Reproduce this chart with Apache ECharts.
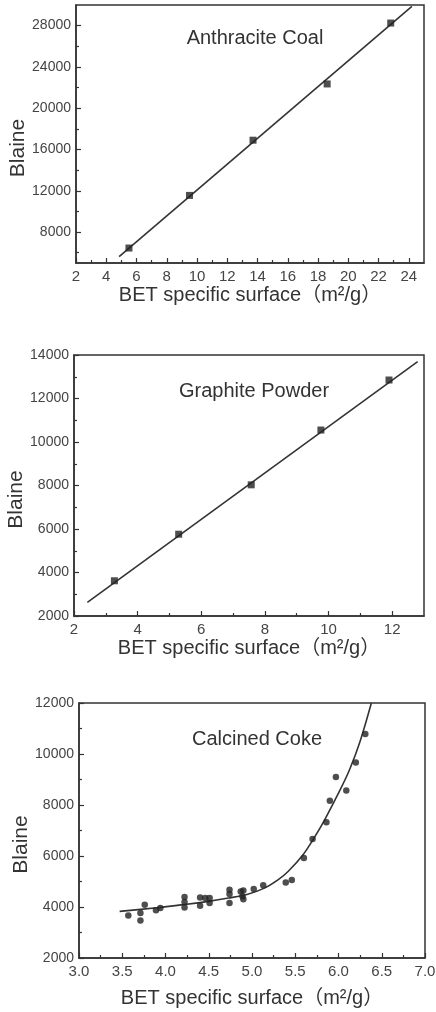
<!DOCTYPE html>
<html>
<head>
<meta charset="utf-8">
<script src="https://cdn.jsdelivr.net/npm/echarts@6/dist/echarts.min.js"></script>
<style>
  html, body { margin: 0; padding: 0; background: #fff; }
  #chart { width: 436px; height: 1012px; }
</style>
</head>
<body>
<div id="chart"></div>
<script>
// anthracite coal
const anthraciteX = [5.5, 9.5, 13.7, 18.6, 22.8]
const anthraciteY = [6450, 11550, 16900, 22350, 28250]
const anthraciteFitX = [4.85, 24.2]
const anthraciteFitY = [5620, 29870]

// graphite powder
const graphiteX = [3.27, 5.29, 7.57, 9.76, 11.9]
const graphiteY = [3620, 5760, 8030, 10550, 12850]
const graphiteFitX = [2.42, 12.8]
const graphiteFitY = [2630, 13700]

// calcined coke
const cokeX = [3.57, 3.71, 3.71, 3.76, 3.89, 3.94, 4.22, 4.22, 4.22, 4.40, 4.40, 4.46, 4.51, 4.51,
  4.74, 4.74, 4.74, 4.87, 4.90, 4.89, 4.90, 5.02, 5.13, 5.39, 5.46, 5.60, 5.70, 5.86, 5.90, 5.97, 6.09, 6.20, 6.31]
const cokeY = [3670, 3475, 3765, 4090, 3870, 3960, 4390, 4195, 3985, 4375, 4050, 4350, 4350, 4160,
  4680, 4510, 4160, 4610, 4650, 4420, 4300, 4710, 4850, 4960, 5060, 5920, 6670, 7320, 8170, 9100, 8570, 9670, 10780]
const cokeFitX = [3.47, 3.9, 4.2, 4.5, 4.73, 4.95, 5.15, 5.3, 5.42, 5.59, 5.72, 5.84, 6.02, 6.13, 6.25, 6.38]
const cokeFitY = [3830, 3970, 4090, 4220, 4350, 4500, 4750, 5060, 5400, 6050, 6720, 7420, 8600, 9400, 10500, 12000]

// tick labels
const xTicks1 = [2, 4, 6, 8, 10, 12, 14, 16, 18, 20, 22, 24]
const xMinor1 = [3, 5, 7, 9, 11, 13, 15, 17, 19, 21, 23]
const yTicks1 = [8000, 12000, 16000, 20000, 24000, 28000]
const yMinor1 = [6000, 10000, 14000, 18000, 22000, 26000]
const xTicks2 = [2, 4, 6, 8, 10, 12]
const xMinor2 = [3, 5, 7, 9, 11]
const yTicks2 = [2000, 4000, 6000, 8000, 10000, 12000, 14000]
const yMinor2 = [3000, 5000, 7000, 9000, 11000, 13000]
const xTicks3 = [3.0, 3.5, 4.0, 4.5, 5.0, 5.5, 6.0, 6.5, 7.0]
const xMinor3 = [3.25, 3.75, 4.25, 4.75, 5.25, 5.75, 6.25, 6.75]
const yTicks3 = [2000, 4000, 6000, 8000, 10000, 12000]
const yMinor3 = [3000, 5000, 7000, 9000, 11000]

const FONT = '"Liberation Sans", Arial, "Noto Sans CJK SC", sans-serif'
const INK = '#333'
const xName = 'BET specific surface（m²/g）'

const panels = [
  { rect: { left: 76, top: 5, width: 348, height: 258 }, x: [2, 25], y: [5000, 30000],
    xt: xTicks1, xm: xMinor1, yt: yTicks1, ym: yMinor1, fmt: v => String(v), xGap: 22,
    title: 'Anthracite Coal', titleTop: 23 },
  { rect: { left: 74, top: 355, width: 350, height: 261 }, x: [2, 13], y: [2000, 14000],
    xt: xTicks2, xm: xMinor2, yt: yTicks2, ym: yMinor2, fmt: v => String(v), xGap: 22,
    title: 'Graphite Powder', titleTop: 376 },
  { rect: { left: 79, top: 703, width: 346, height: 255 }, x: [3, 7], y: [2000, 12000],
    xt: xTicks3, xm: xMinor3, yt: yTicks3, ym: yMinor3, fmt: v => v.toFixed(1), xGap: 30,
    title: 'Calcined Coke', titleTop: 724 },
]

const zip = (xs, ys) => xs.map((x, i) => [x, ys[i]])

const grids = []
const xAxes = []
const yAxes = []
const titles = []
// main grids first, then overlay grids carrying the minor ticks
panels.forEach(p => {
  grids.push(Object.assign({ show: true, borderColor: INK, borderWidth: 1.5, backgroundColor: 'transparent',
    containLabel: false, outerBoundsMode: 'none' }, p.rect))
})
panels.forEach(p => {
  grids.push(Object.assign({ show: false, containLabel: false, outerBoundsMode: 'none' }, p.rect))
})

panels.forEach((p, i) => {
  xAxes.push({
    type: 'value', gridIndex: i, min: p.x[0], max: p.x[1],
    name: xName, nameLocation: 'middle', nameGap: p.xGap, nameMoveOverlap: false,
    nameTextStyle: { fontFamily: FONT, fontSize: 20, color: INK },
    axisLine: { lineStyle: { color: INK, width: 1.5 } },
    axisTick: { inside: true, length: 5, customValues: p.xt, lineStyle: { color: INK, width: 1.2 } },
    axisLabel: { customValues: p.xt, formatter: p.fmt, margin: 6, fontFamily: FONT, fontSize: 15, color: '#444' },
    splitLine: { show: false },
  })
  yAxes.push({
    type: 'value', gridIndex: i, min: p.y[0], max: p.y[1],
    name: 'Blaine', nameLocation: 'middle', nameGap: 47, nameMoveOverlap: false,
    // right padding pushes the rotated word down a little
    nameTextStyle: { fontFamily: FONT, fontSize: 21, color: INK, padding: [0, 28, 0, 0] },
    axisLine: { lineStyle: { color: INK, width: 1.5 } },
    axisTick: { inside: true, length: 5, customValues: p.yt, lineStyle: { color: INK, width: 1.2 } },
    axisLabel: { customValues: p.yt, formatter: v => String(v), margin: 5, fontFamily: FONT, fontSize: 14, color: '#444' },
    splitLine: { show: false },
  })
  titles.push({
    text: p.title, left: p.rect.left + p.rect.width / 2, top: p.titleTop, textAlign: 'center',
    textStyle: { fontFamily: FONT, fontSize: 20, fontWeight: 'normal', color: INK },
  })
})
panels.forEach((p, i) => {
  xAxes.push({
    type: 'value', gridIndex: i + 3, min: p.x[0], max: p.x[1],
    axisLine: { show: false }, axisLabel: { show: false }, splitLine: { show: false },
    axisTick: { inside: true, length: 3, customValues: p.xm, lineStyle: { color: INK, width: 1.2 } },
  })
  yAxes.push({
    type: 'value', gridIndex: i + 3, min: p.y[0], max: p.y[1],
    axisLine: { show: false }, axisLabel: { show: false }, splitLine: { show: false },
    axisTick: { inside: true, length: 3, customValues: p.ym, lineStyle: { color: INK, width: 1.2 } },
  })
})

const fitLine = (i, xs, ys, smooth) => ({
  type: 'line', xAxisIndex: i, yAxisIndex: i, data: zip(xs, ys), showSymbol: false,
  smooth: smooth || false, lineStyle: { color: INK, width: 1.6 }, silent: true, z: 2,
})
const dots = (i, xs, ys, symbol, size) => ({
  type: 'scatter', xAxisIndex: i, yAxisIndex: i, data: zip(xs, ys),
  symbol: symbol, symbolSize: size, itemStyle: { color: '#222' }, z: 3,
})

const chart = echarts.init(document.getElementById('chart'), null, { renderer: 'canvas' })
chart.setOption({
  animation: false,
  backgroundColor: '#fff',
  title: titles,
  grid: grids,
  xAxis: xAxes,
  yAxis: yAxes,
  series: [
    fitLine(0, anthraciteFitX, anthraciteFitY),
    dots(0, anthraciteX, anthraciteY, 'rect', 7),
    fitLine(1, graphiteFitX, graphiteFitY),
    dots(1, graphiteX, graphiteY, 'rect', 7),
    fitLine(2, cokeFitX, cokeFitY, 0.3),
    dots(2, cokeX, cokeY, 'circle', 6.5),
  ],
})
</script>
</body>
</html>
